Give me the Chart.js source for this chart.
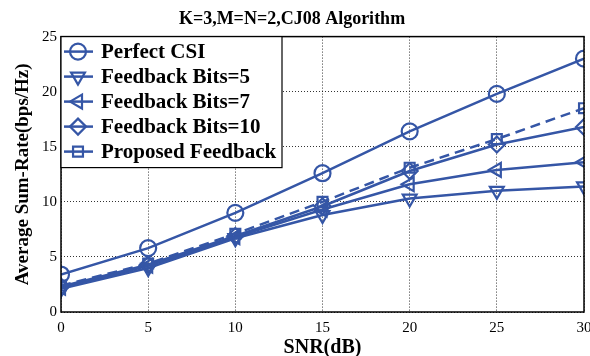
<!DOCTYPE html>
<html>
<head>
<meta charset="utf-8">
<script src="https://cdn.jsdelivr.net/npm/chart.js@4.4.0/dist/chart.umd.min.js"></script>
<style>
  html, body { margin: 0; padding: 0; background: #fff; }
  #wrap { width: 590px; height: 356px; }
</style>
</head>
<body>
<div id="wrap"><canvas id="grafico"></canvas></div>
<script>
const snr = [0, 5, 10, 15, 20, 25, 30];
const perfectCSI = [3.4, 5.8, 9.0, 12.6, 16.4, 19.8, 23.0];
const bits5 = [2.1, 4.0, 6.7, 8.8, 10.3, 11.0, 11.4];
const bits7 = [2.2, 4.2, 6.8, 9.3, 11.6, 12.9, 13.6];
const bits10 = [2.3, 4.3, 6.9, 9.6, 12.8, 15.2, 16.8];
const proposed = [2.4, 4.4, 7.1, 10.0, 13.1, 15.7, 18.5];
const yTicks = [0, 5, 10, 15, 20, 25];

const azul = "#3556a6";
const serif = "'Liberation Serif', 'DejaVu Serif', serif";

function serie(label, data, estilo, rot, tracejado) {
  return {
    label: label,
    data: snr.map((x, i) => ({ x: x, y: data[i] })),
    borderColor: azul,
    backgroundColor: "rgba(0,0,0,0)",
    borderWidth: 2.5,
    borderDash: tracejado ? [10, 6] : [],
    pointStyle: estilo,
    rotation: rot,
    pointRadius: estilo === "rect" ? 7 : 8,
    pointBorderWidth: 2.2,
    pointBackgroundColor: "rgba(0,0,0,0)",
    pointBorderColor: azul,
    tension: 0
  };
}

// moldura e legenda desenhadas por cima
const molduraLegenda = {
  id: "molduraLegenda",
  afterDraw(chart) {
    const { ctx, chartArea: a } = chart;
    ctx.save();
    ctx.strokeStyle = "#000";
    ctx.lineWidth = 1.5;
    ctx.setLineDash([]);
    ctx.strokeRect(a.left, a.top, a.right - a.left, a.bottom - a.top);

    // legenda
    const lx = a.left, ly = a.top, lw = 221, lh = 131;
    ctx.fillStyle = "#fff";
    ctx.fillRect(lx, ly, lw, lh);
    ctx.strokeStyle = "#000";
    ctx.lineWidth = 1.2;
    ctx.strokeRect(lx, ly, lw, lh);
    ctx.font = "bold 21px " + serif;
    ctx.textBaseline = "middle";
    chart.data.datasets.forEach((ds, i) => {
      const y = ly + 15 + i * 25;
      ctx.strokeStyle = azul;
      ctx.lineWidth = 2.5;
      ctx.beginPath();
      ctx.moveTo(lx + 3, y);
      ctx.lineTo(lx + 32, y);
      ctx.stroke();
      ctx.lineWidth = 2.2;
      ctx.fillStyle = "rgba(0,0,0,0)";
      Chart.helpers.drawPoint(ctx, {
        pointStyle: ds.pointStyle,
        rotation: ds.rotation,
        radius: ds.pointRadius,
        borderWidth: 2.2
      }, lx + 17, y);
      ctx.fillStyle = "#000";
      ctx.fillText(ds.label, lx + 40, y + 1);
    });
    ctx.restore();
  }
};

new Chart(document.getElementById("grafico").getContext("2d"), {
  type: "line",
  data: {
    datasets: [
      serie("Perfect CSI", perfectCSI, "circle", 0, false),
      serie("Feedback Bits=5", bits5, "triangle", 180, false),
      serie("Feedback Bits=7", bits7, "triangle", 270, false),
      serie("Feedback Bits=10", bits10, "rectRot", 0, false),
      serie("Proposed Feedback", proposed, "rect", 0, true)
    ]
  },
  options: {
    responsive: true,
    maintainAspectRatio: false,
    animation: false,
    layout: { autoPadding: false, padding: { left: 0, right: 6, top: 0, bottom: 0 } },
    plugins: {
      legend: { display: false },
      tooltip: { enabled: false },
      title: {
        display: true,
        text: "K=3,M=N=2,CJ08 Algorithm",
        color: "#000",
        font: { family: serif, size: 18, weight: "bold" },
        padding: { top: 9, bottom: 6 }
      }
    },
    scales: {
      x: {
        type: "linear",
        min: 0,
        max: 30,
        afterBuildTicks(scale) { scale.ticks = snr.map(v => ({ value: v })); },
        afterFit(scale) { scale.height = 44; scale.paddingLeft = 0; scale.paddingRight = 0; },
        ticks: { color: "#000", font: { family: serif, size: 15 }, padding: 7, maxRotation: 0 },
        grid: { color: "#000", lineWidth: 0.8, drawTicks: false },
        border: { display: false, dash: [1, 2] },
        title: {
          display: true,
          text: "SNR(dB)",
          color: "#000",
          font: { family: serif, size: 20, weight: "bold" },
          padding: { top: 0, bottom: -4 }
        }
      },
      y: {
        min: 0,
        max: 25,
        afterBuildTicks(scale) { scale.ticks = yTicks.map(v => ({ value: v })); },
        afterFit(scale) { scale.width = 61; },
        ticks: { color: "#000", font: { family: serif, size: 15 }, padding: 4 },
        grid: { color: "#000", lineWidth: 0.8, drawTicks: false },
        border: { display: false, dash: [1, 2] },
        title: {
          display: true,
          text: "Average Sum-Rate(bps/Hz)",
          color: "#000",
          font: { family: serif, size: 19, weight: "bold" },
          padding: { top: 12, bottom: 0 }
        }
      }
    }
  },
  plugins: [molduraLegenda]
});
</script>
</body>
</html>
